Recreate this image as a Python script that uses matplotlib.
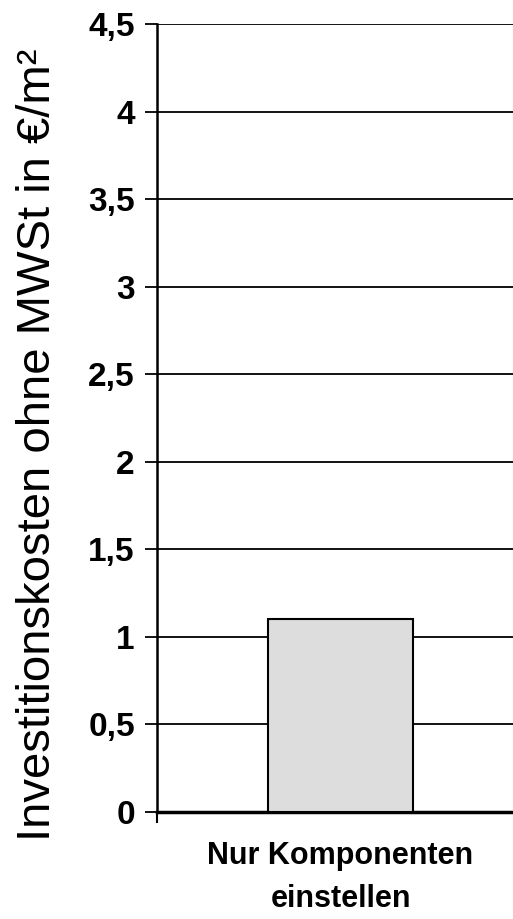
import matplotlib.pyplot as plt
import numpy as np

# --- Data ---
categories = ['Nur Komponenten\neinstellen']
values = [1.1]
ytick_values = [0, 0.5, 1, 1.5, 2, 2.5, 3, 3.5, 4, 4.5]
ytick_labels = ['0', '0,5', '1', '1,5', '2', '2,5', '3', '3,5', '4', '4,5']

plt.rcParams['font.family'] = ['Liberation Sans', 'DejaVu Sans']

fig = plt.figure(figsize=(5.13, 9.19), dpi=100)
ax = fig.add_axes([157 / 513, 1 - 812 / 919, 367 / 513, (812 - 24) / 919])

x = np.arange(len(categories))

# gridlines behind the bar
ax.set_axisbelow(True)
ax.yaxis.grid(True, color='black', linewidth=1.3)

ax.bar(x, values, width=0.395, color='#dddddd', edgecolor='black', linewidth=1.5, zorder=3)

ax.set_xlim(-0.5, 0.5)
ax.set_ylim(0, 4.5)

ax.set_yticks(ytick_values)
ax.set_yticklabels(ytick_labels, fontsize=24, fontweight='bold')
ax.tick_params(axis='y', direction='out', length=9, width=1.3, pad=7)

ax.set_xticks(x)
ax.set_xticklabels(categories, fontsize=22, fontweight='bold', linespacing=1.55)
ax.tick_params(axis='x', which='major', length=0, pad=21)
ax.set_xticks([-0.5, 0.5], minor=True)
ax.tick_params(axis='x', which='minor', direction='out', length=8, width=1.5)

for side in ['top', 'right']:
    ax.spines[side].set_visible(False)
ax.spines['left'].set_linewidth(1.8)
ax.spines['bottom'].set_linewidth(2.5)

fig.text(38 / 513, 1 - 445 / 919, 'Investitionskosten ohne MWSt in €/m²',
         rotation=90, ha='center', va='center', fontsize=34)

plt.savefig('out.png', dpi=100)
